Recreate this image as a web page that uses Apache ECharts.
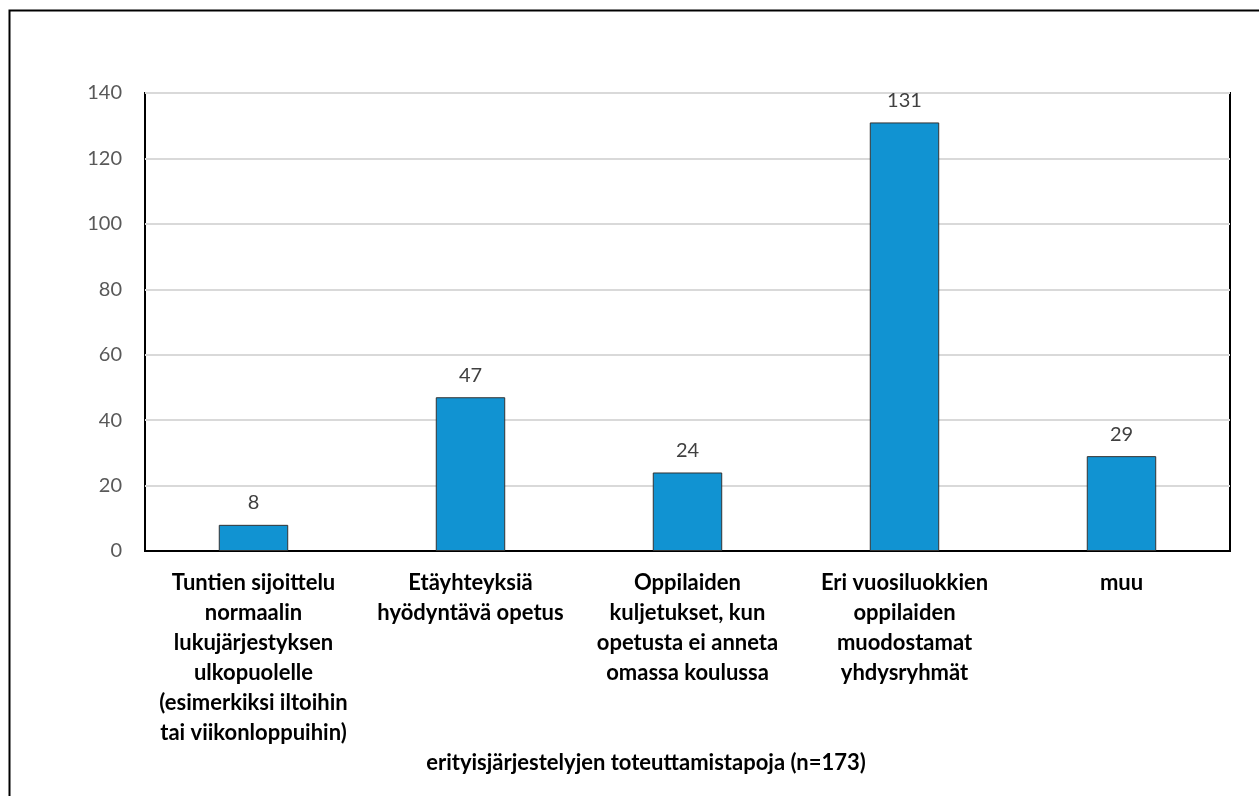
<!DOCTYPE html>
<html>
<head>
<meta charset="utf-8" />
<title></title>
<script src="https://cdn.jsdelivr.net/npm/echarts@6/dist/echarts.min.js"></script>
<style>
  html, body { margin: 0; padding: 0; background: #fff; }
  #infoChart { width: 1259px; height: 796px; }
</style>
</head>
<body>
<div id="infoChart"></div>
<script>
// kategoriat (rivinvaihdot kuten kuvassa)
var categories = [
  'Tuntien sijoittelu\nnormaalin\nlukujärjestyksen\nulkopuolelle\n(esimerkiksi iltoihin\ntai viikonloppuihin)',
  'Etäyhteyksiä\nhyödyntävä opetus',
  'Oppilaiden\nkuljetukset, kun\nopetusta ei anneta\nomassa koulussa',
  'Eri vuosiluokkien\noppilaiden\nmuodostamat\nyhdysryhmät',
  'muu'
];
var values = [8, 47, 24, 131, 29];
var axisTitle = 'erityisjärjestelyjen toteuttamistapoja (n=173)';
var yMin = 0, yMax = 140, yStep = 20;

var font = 'Lato, "Open Sans", sans-serif';

var option = {
  animation: false,
  backgroundColor: '#fff',
  textStyle: { fontFamily: font },
  graphic: [{
    type: 'rect',
    left: 7, top: 8,
    shape: { width: 1300, height: 900 },
    style: { fill: 'none', stroke: '#000', lineWidth: 2 },
    silent: true
  }, {
    type: 'text',
    x: 646, y: 763,
    style: {
      text: axisTitle, font: 'bold 22px ' + font, fill: '#000',
      align: 'center', verticalAlign: 'middle'
    }
  }],
  grid: {
    left: 145, right: 29, top: 93, bottom: 245,
    show: true, borderColor: '#000', borderWidth: 2, backgroundColor: 'transparent'
  },
  xAxis: {
    type: 'category',
    data: categories,
    axisTick: { show: false },
    axisLine: { lineStyle: { color: '#000', width: 2 } },
    axisLabel: {
      interval: 0,
      margin: 17,
      color: '#000',
      fontWeight: 'bold',
      fontSize: 22,
      lineHeight: 30,
      fontFamily: font,
      align: 'center'
    }
  },
  yAxis: {
    type: 'value',
    min: yMin, max: yMax, interval: yStep,
    axisLine: { show: false },
    axisTick: { show: false },
    axisLabel: { color: '#595959', fontSize: 20, margin: 23, fontFamily: font },
    splitLine: { lineStyle: { color: '#d9d9d9', width: 2 } }
  },
  series: [{
    type: 'bar',
    data: values,
    barWidth: '32%',
    itemStyle: { color: '#1193d2', borderColor: '#333', borderWidth: 1 },
    label: {
      show: true, position: 'top', distance: 12,
      color: '#404040', fontSize: 20, fontFamily: font
    }
  }]
};

var mychart = echarts.init(document.getElementById('infoChart'));
mychart.setOption(option);
</script>
</body>
</html>
